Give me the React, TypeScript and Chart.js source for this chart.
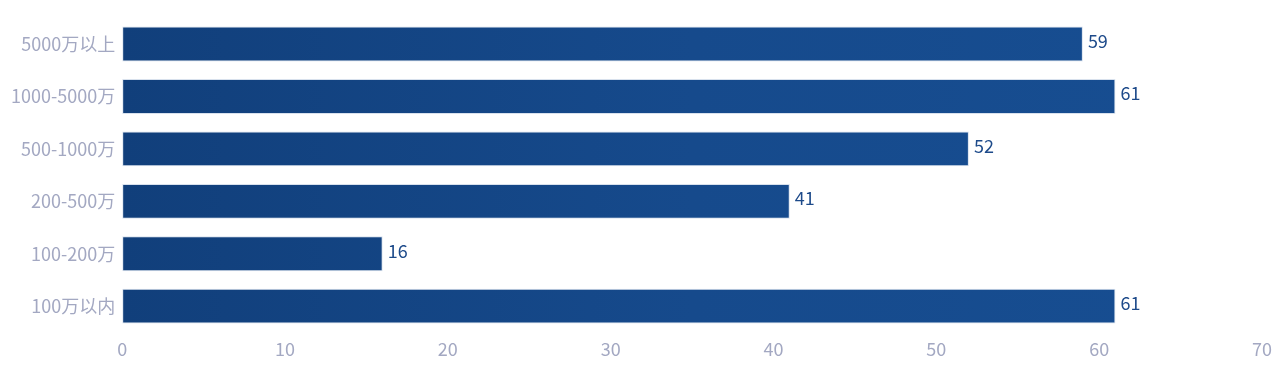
import React, { useEffect, useRef } from "react";
import { Chart, registerables } from "chart.js";

Chart.register(...registerables);

const categories = ["5000万以上", "1000-5000万", "500-1000万", "200-500万", "100-200万", "100万以内"];
const values = [59, 61, 52, 41, 16, 61];
const xMin = 0;
const xMax = 70;
const xStep = 10;

const FONT = "'Noto Sans CJK SC', 'Noto Sans', sans-serif";

const valueLabelPlugin = {
  id: "valueLabels",
  afterDatasetsDraw(chart: any) {
    const ctx = chart.ctx;
    const meta = chart.getDatasetMeta(0);
    ctx.save();
    ctx.font = `18px ${FONT}`;
    ctx.fillStyle = "#1d4a8a";
    ctx.textAlign = "left";
    ctx.textBaseline = "middle";
    meta.data.forEach((bar: any, i: number) => {
      ctx.fillText(String(values[i]), bar.x + 5, bar.y - 3);
    });
    ctx.restore();
  },
};

export default function App() {
  const ref = useRef<HTMLCanvasElement | null>(null);
  useEffect(() => {
    document.body.style.margin = "0";
    const canvas = ref.current!;
    const chart = new Chart(canvas, {
      type: "bar",
      data: {
        labels: categories,
        datasets: [
          {
            data: values,
            backgroundColor: (c: any) => {
              const area = c.chart.chartArea;
              if (!area) return "#144483";
              const g = c.chart.ctx.createLinearGradient(area.left, 0, area.right, 0);
              g.addColorStop(0, "#113f7b");
              g.addColorStop(0.5, "#164a8c");
              g.addColorStop(1, "#174e92");
              return g;
            },
            borderColor: "rgba(200,212,230,0.7)",
            borderWidth: 1,
            borderSkipped: false,
            categoryPercentage: 0.665,
            barPercentage: 1,
          },
        ],
      },
      options: {
        indexAxis: "y",
        responsive: false,
        animation: false,
        maintainAspectRatio: false,
        layout: { padding: { top: 13, right: 18, bottom: 16, left: 4 } },
        plugins: {
          legend: { display: false },
          tooltip: { enabled: false },
        },
        scales: {
          x: {
            min: xMin,
            max: xMax,
            ticks: {
              stepSize: xStep,
              color: "#a3a8c2",
              font: { size: 18, family: FONT },
              padding: 6,
            },
            grid: { display: false, drawTicks: false },
            border: { display: false },
          },
          y: {
            ticks: {
              color: "#a3a8c2",
              font: { size: 18, family: FONT },
              padding: 7,
            },
            grid: { display: false, drawTicks: false },
            border: { display: false },
          },
        },
      },
      plugins: [valueLabelPlugin],
    });
    return () => chart.destroy();
  }, []);
  return (
    <div style={{ width: 1280, height: 382 }}>
      <canvas ref={ref} width={1280} height={382} style={{ display: "block" }} />
    </div>
  );
}
